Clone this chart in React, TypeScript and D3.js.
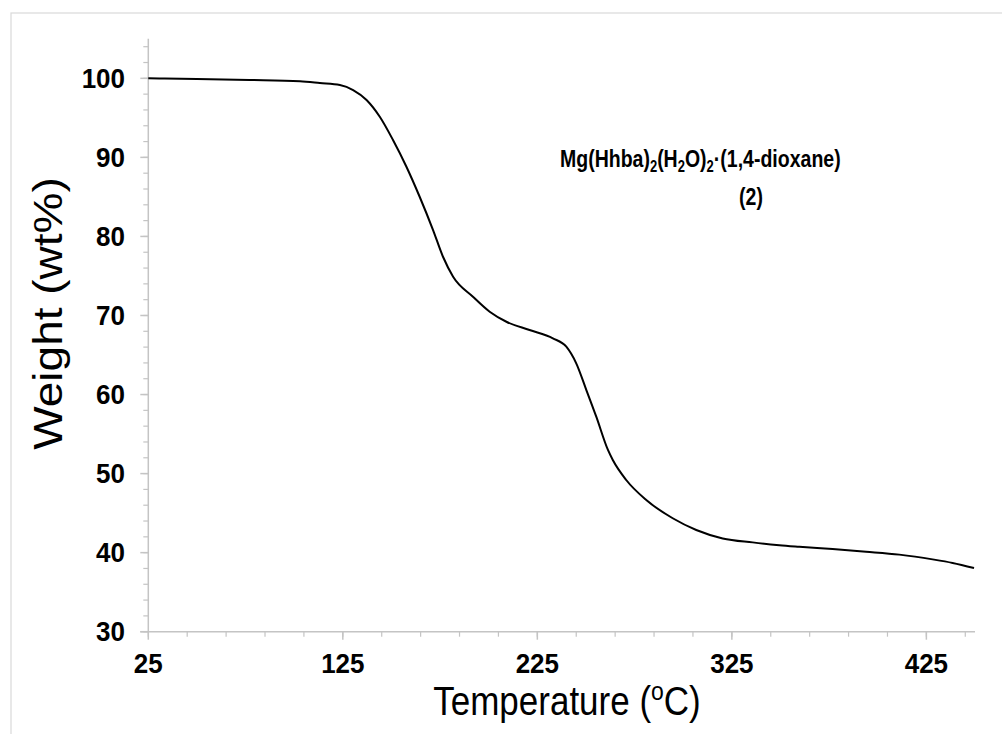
import React from "react";
import * as d3 from "d3";

const temperatures = [25, 50, 77, 103, 113.2, 123.5, 130.3, 137.2, 144.0, 150.8, 157.7, 164.5, 171.4, 176.5, 181.7, 191.9, 200.5, 209.1, 221.0, 233.0, 239.9, 245.0, 250.2, 255.3, 261.3, 263.8, 270.7, 281.0, 294.6, 306.7, 320.3, 335.7, 349.4, 359.7, 376.8, 394.0, 411.1, 428.2, 438.5, 449.5];
const weights = [100, 99.93, 99.8, 99.62, 99.4, 99.15, 98.52, 97.26, 95.14, 92.2, 88.82, 85.02, 80.81, 77.43, 74.91, 72.38, 70.48, 69.21, 68.16, 67.11, 66.05, 63.95, 60.57, 57.2, 52.99, 51.72, 49.19, 46.66, 44.35, 42.87, 41.8, 41.3, 40.95, 40.75, 40.45, 40.12, 39.75, 39.15, 38.7, 38.05];

const xMajorTicks = [25, 125, 225, 325, 425];
const yMajorTicks = [30, 40, 50, 60, 70, 80, 90, 100];

export default function App() {
  const W = 1002, H = 734;
  const x = d3.scaleLinear().domain([25, 450]).range([148.3, 975]);
  const y = d3.scaleLinear().domain([30, 105]).range([631.7, 38.8]);
  const xMinor = d3.range(25, 451, 20);
  const yMinor = d3.range(30, 105.1, 2);
  const pts: [number, number][] = temperatures.map((t, i) => [t, weights[i]]);
  const line = d3.line<[number, number]>().x(d => x(d[0])).y(d => y(d[1])).curve(d3.curveMonotoneX);
  const axisColor = "#c4c4c4";
  const font = "'Liberation Sans', Arial, sans-serif";
  const x0 = x(25), y0 = y(30);

  return (
    <svg width={W} height={H} style={{ position: "absolute", left: 0, top: 0 }} fontFamily={font}>
      <rect x={0} y={0} width={W} height={H} fill="#fff" />
      <rect x={11} y={13} width={W + 20} height={H + 20} fill="none" stroke="#d9d9d9" strokeWidth={1.2} />
      {/* y axis */}
      <line x1={x0} x2={x0} y1={y(105)} y2={y0} stroke={axisColor} strokeWidth={1.5} />
      {yMinor.map(v => (
        <line key={"ym" + v} x1={x0 - 5} x2={x0} y1={y(v)} y2={y(v)} stroke={axisColor} strokeWidth={1.2} />
      ))}
      {yMajorTicks.map(v => (
        <g key={"yM" + v}>
          <line x1={x0 - 8} x2={x0} y1={y(v)} y2={y(v)} stroke={axisColor} strokeWidth={1.5} />
          <text transform={`translate(125,${y(v) + 9.5}) scale(1,1.08)`} textAnchor="end" fontSize={26} fontWeight="bold" fill="#000">{v}</text>
        </g>
      ))}
      {/* x axis */}
      <line x1={x0 - 8} x2={x(450)} y1={y0} y2={y0} stroke={axisColor} strokeWidth={1.5} />
      {xMinor.map(v => (
        <line key={"xm" + v} x1={x(v)} x2={x(v)} y1={y0} y2={y0 + 5} stroke={axisColor} strokeWidth={1.2} />
      ))}
      {xMajorTicks.map(v => (
        <g key={"xM" + v}>
          <line x1={x(v)} x2={x(v)} y1={y0} y2={y0 + 8} stroke={axisColor} strokeWidth={1.5} />
          <text transform={`translate(${x(v)},672.5) scale(1,1.08)`} textAnchor="middle" fontSize={26} fontWeight="bold" fill="#000">{v}</text>
        </g>
      ))}
      {/* data */}
      <path d={line(pts) || ""} fill="none" stroke="#000" strokeWidth={2} />
      {/* axis titles */}
      <text transform="translate(567,715) scale(1,1.15)" textAnchor="middle" fontSize={35} fill="#000">
        Temperature (<tspan fontSize={23} dy={-13}>o</tspan><tspan dy={13}>C)</tspan>
      </text>
      <text transform="translate(62,313.5) scale(1,1.15) rotate(-90)" textAnchor="middle" fontSize={40} fill="#000">
        Weight (wt%)
      </text>
      {/* annotation */}
      <text transform="translate(560,167) scale(1,1.22)" fontSize={19.5} fontWeight="bold" fill="#000">
        Mg(Hhba)<tspan fontSize={13} dy={4}>2</tspan><tspan dy={-4}>(H</tspan><tspan fontSize={13} dy={4}>2</tspan><tspan dy={-4}>O)</tspan><tspan fontSize={13} dy={4}>2</tspan><tspan dy={-4}>·(1,4-dioxane)</tspan>
      </text>
      <text transform="translate(751,205) scale(1,1.22)" textAnchor="middle" fontSize={19.5} fontWeight="bold" fill="#000">(2)</text>
    </svg>
  );
}
